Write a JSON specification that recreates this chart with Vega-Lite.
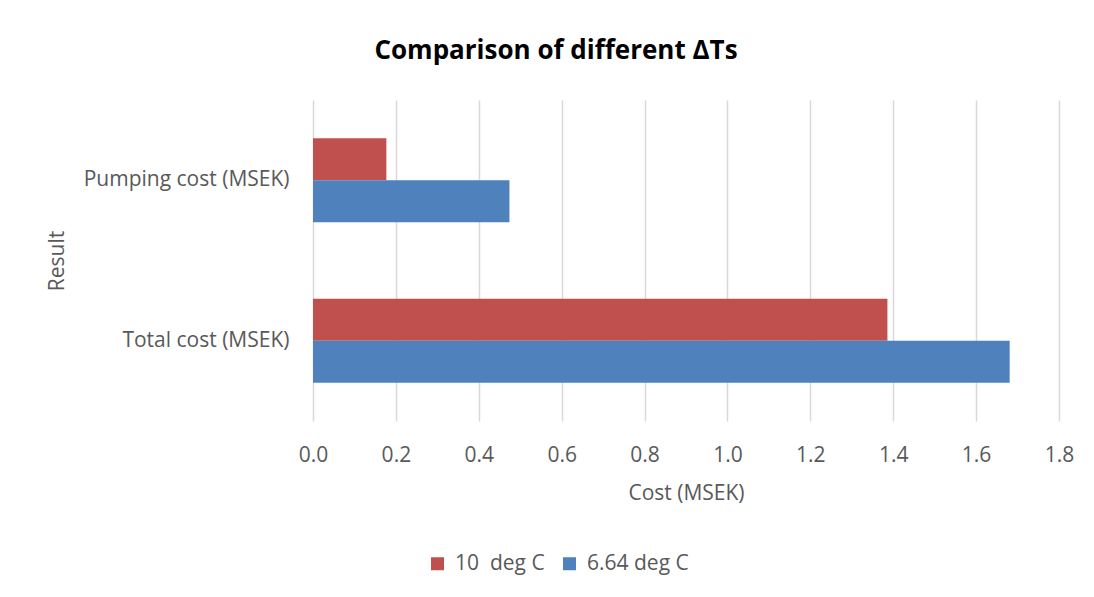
{
  "$schema": "https://vega.github.io/schema/vega-lite/v6.json",
  "width": 746,
  "height": 321,
  "autosize": {"type": "none"},
  "padding": {"left": 313, "top": 100, "right": 35, "bottom": 176},
  "background": "white",
  "title": {
    "text": "Comparison of different ΔTs",
    "font": "Open Sans",
    "fontSize": 26,
    "fontWeight": "bold",
    "color": "#000000",
    "anchor": "middle",
    "dx": -130,
    "offset": 36
  },
  "data": {
    "values": [
      {"result": "Pumping cost (MSEK)", "case": "10\u00a0 deg C", "cost": 0.177},
      {"result": "Pumping cost (MSEK)", "case": "6.64 deg C", "cost": 0.474},
      {"result": "Total cost (MSEK)", "case": "10\u00a0 deg C", "cost": 1.386},
      {"result": "Total cost (MSEK)", "case": "6.64 deg C", "cost": 1.681}
    ]
  },
  "mark": {"type": "bar"},
  "encoding": {
    "y": {
      "field": "result",
      "type": "nominal",
      "sort": ["Pumping cost (MSEK)", "Total cost (MSEK)"],
      "scale": {"paddingInner": 0.477, "paddingOuter": 0.2385},
      "title": "Result",
      "axis": {
        "domain": false,
        "ticks": false,
        "labelPadding": 24,
        "labelLimit": 0,
        "labelFont": "Open Sans",
        "labelFontSize": 21,
        "labelColor": "#595959",
        "titleFont": "Open Sans",
        "titleFontSize": 21,
        "titleFontWeight": "normal",
        "titleColor": "#595959",
        "titlePadding": 46
      }
    },
    "yOffset": {
      "field": "case",
      "type": "nominal",
      "sort": ["10\u00a0 deg C", "6.64 deg C"],
      "scale": {"paddingInner": 0, "paddingOuter": 0}
    },
    "x": {
      "field": "cost",
      "type": "quantitative",
      "scale": {"domain": [0, 1.8], "nice": false},
      "title": "Cost (MSEK)",
      "axis": {
        "values": [0, 0.2, 0.4, 0.6, 0.8, 1.0, 1.2, 1.4, 1.6, 1.8],
        "format": ".1f",
        "domain": false,
        "ticks": false,
        "grid": true,
        "gridColor": "#D9D9D9",
        "gridWidth": 1.5,
        "labelFlush": false,
        "labelPadding": 23,
        "labelFont": "Open Sans",
        "labelFontSize": 21,
        "labelColor": "#595959",
        "titleFont": "Open Sans",
        "titleFontSize": 21,
        "titleFontWeight": "normal",
        "titleColor": "#595959",
        "titlePadding": 17
      }
    },
    "color": {
      "field": "case",
      "type": "nominal",
      "sort": ["10\u00a0 deg C", "6.64 deg C"],
      "scale": {"domain": ["10\u00a0 deg C", "6.64 deg C"], "range": ["#C0504D", "#4F81BD"]},
      "legend": {
        "title": null,
        "orient": "none",
        "direction": "horizontal",
        "legendX": 114,
        "legendY": 453,
        "symbolType": "square",
        "symbolSize": 169,
        "symbolStrokeWidth": 0,
        "labelFont": "Open Sans",
        "labelFontSize": 21,
        "labelColor": "#595959",
        "labelOffset": 7,
        "labelLimit": 0,
        "columnPadding": 14
      }
    }
  },
  "config": {
    "view": {"stroke": null},
    "axisY": {"grid": false}
  }
}
